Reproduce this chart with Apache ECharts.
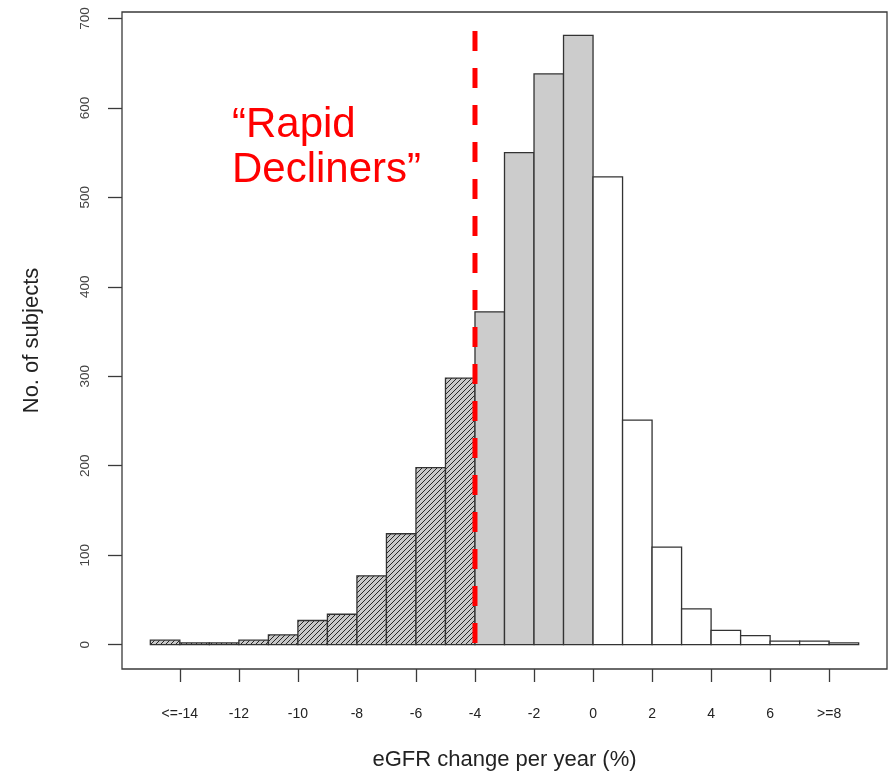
<!DOCTYPE html>
<html><head><meta charset="utf-8">
<script src="https://cdn.jsdelivr.net/npm/echarts@6/dist/echarts.min.js"></script>
<style>html,body{margin:0;padding:0;background:#fff}#c{width:890px;height:771px}</style>
</head><body><div id="c"></div>
<script>
// ---- data ----
const binStarts = [-15,-14,-13,-12,-11,-10,-9,-8,-7,-6,-5,-4,-3,-2,-1,0,1,2,3,4,5,6,7,8];
const binWidth = 1;
const counts = [5,2,2,5,11,27,34,77,124,198,298,372,550,638,681,523,251,109,40,16,10,4,4,2];
const rapidCutoff = -4;   // bins below: hatched ("rapid decliners")
const declineCutoff = 0;  // bins below (and >= rapidCutoff): grey
const xTicks = [-14,-12,-10,-8,-6,-4,-2,0,2,4,6,8];
const xTickLabels = ['<=-14','-12','-10','-8','-6','-4','-2','0','2','4','6','>=8'];
const yTicks = [0,100,200,300,400,500,600,700];
const cutoffLine = [[-4, 686], [-4, 0]];
const annotationLines = ['\u201CRapid', 'Decliners\u201D'];
const xTitle = 'eGFR change per year (%)';
const yTitle = 'No. of subjects';

function makeHatch(){
  const s = 5;
  const c = document.createElement('canvas'); c.width = s; c.height = s;
  const g = c.getContext('2d');
  g.fillStyle = '#c8c8c8'; g.fillRect(0,0,s,s);
  g.strokeStyle = '#262626'; g.lineWidth = 1;
  g.beginPath();
  g.moveTo(-1, s+1); g.lineTo(s+1, -1);
  g.moveTo(-1, 1); g.lineTo(1, -1);
  g.moveTo(s-1, s+1); g.lineTo(s+1, s-1);
  g.stroke();
  return c;
}
const hatch = {image: makeHatch(), repeat: 'repeat'};

const font = 'Liberation Sans, Arial, sans-serif';
const chart = echarts.init(document.getElementById('c'), null, {renderer:'canvas'});
const xMin = -15.96, xMax = 9.96, yMin = -27.2, yMax = 707.2;

chart.setOption({
  animation: false,
  backgroundColor: '#fff',
  grid: {left:122, right:3, top:12, bottom:102, containLabel:false, outerBoundsMode:'none',
    show:true, borderColor:'#3a3a3a', borderWidth:1.3, backgroundColor:'transparent'},
  xAxis: {
    type:'value', min:xMin, max:xMax,
    axisLine:{show:false, onZero:false}, splitLine:{show:false},
    axisTick:{show:true, inside:false, length:13, customValues:xTicks, lineStyle:{color:'#3a3a3a', width:1.3}},
    axisLabel:{show:true, margin:38, customValues:xTicks, fontFamily:font, fontSize:14, color:'#222',
      formatter: v => xTickLabels[xTicks.indexOf(v)] ?? ''},
    name: xTitle, nameLocation:'middle', nameGap:80,
    nameTextStyle:{fontFamily:font, fontSize:22, color:'#222'}
  },
  yAxis: {
    type:'value', min:yMin, max:yMax,
    axisLine:{show:false, onZero:false}, splitLine:{show:false},
    axisTick:{show:true, inside:false, length:14, customValues:yTicks, lineStyle:{color:'#3a3a3a', width:1.3}},
    axisLabel:{show:true, rotate:90, margin:30, customValues:yTicks, fontFamily:font, fontSize:13.5, color:'#444'},
    name: yTitle, nameLocation:'middle', nameGap:79,
    nameTextStyle:{fontFamily:font, fontSize:22, color:'#222'}
  },
  series: [
    {
      type:'custom',
      data: binStarts.map((b,i)=>[b, b+binWidth, counts[i]]),
      renderItem(params, api){
        const x0 = api.value(0), x1 = api.value(1), y = api.value(2);
        const p0 = api.coord([x0, y]), p1 = api.coord([x1, 0]);
        let fill = '#ffffff';
        if (x0 < rapidCutoff) fill = hatch;
        else if (x0 < declineCutoff) fill = '#cccccc';
        return {type:'rect', shape:{x:p0[0], y:p0[1], width:p1[0]-p0[0], height:p1[1]-p0[1]},
          style:{fill:fill, stroke:'#333', lineWidth:1.3}};
      },
      silent:true, z:2
    },
    {
      type:'line', data:cutoffLine, symbol:'none', silent:true, z:5,
      lineStyle:{color:'#ff0000', width:5, type:[20,17]}
    }
  ],
  graphic: [
    {type:'text', left:232, top:104, silent:true, z:10,
     style:{text:annotationLines[0], font:'42px Liberation Sans, Arial, sans-serif', fill:'#ff0000'}},
    {type:'text', left:232, top:149, silent:true, z:10,
     style:{text:annotationLines[1], font:'42px Liberation Sans, Arial, sans-serif', fill:'#ff0000'}}
  ]
});
</script>
</body></html>
